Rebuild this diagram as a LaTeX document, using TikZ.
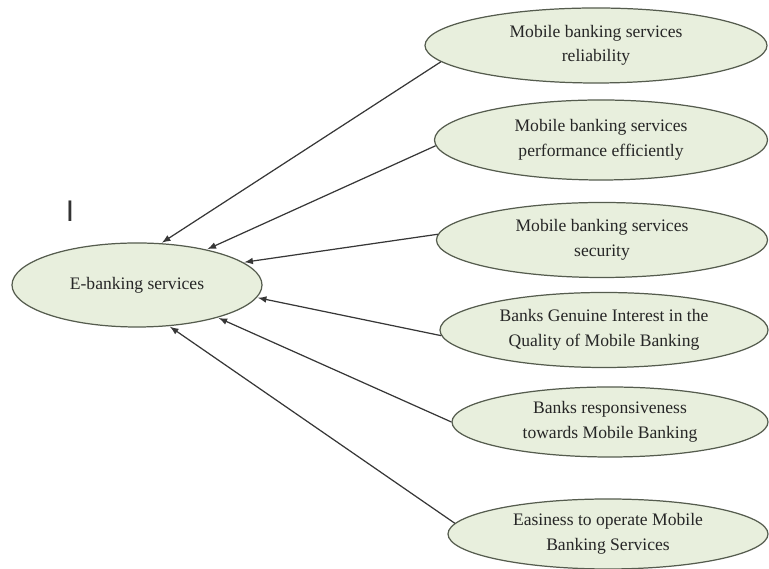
\documentclass[tikz,border=0pt]{standalone}
\usepackage{fontspec}
\setmainfont{Liberation Serif}
\setsansfont{Liberation Sans}
\usetikzlibrary{arrows,%
                shapes.geometric}
\definecolor{ovalfill}{RGB}{232,239,221}
\definecolor{ovalline}{RGB}{85,92,78}
\definecolor{linkgray}{RGB}{55,55,55}

\begin{document}
\begin{tikzpicture}
  \useasboundingbox (0,0) rectangle (15.38,11.38);
  %\draw[gray!30] (0,0) grid (15,11);

  \tikzstyle{Oval}=[ellipse,draw=ovalline,fill=ovalfill,line width=0.7pt,
                    inner sep=0pt,align=center,text=black!85,
                    font=\fontsize{10}{14}\selectfont]
  \tikzstyle{Link}=[-latex,draw=linkgray,line width=0.7pt,shorten >=0.5pt]

  \node[Oval,minimum width=5cm,minimum height=1.68cm] (E) at (2.74,5.68) {E-banking services};

  \node[Oval,minimum width=6.84cm,minimum height=1.5cm] (r1) at (11.92,10.47)
    {Mobile banking services\\reliability};
  \node[Oval,minimum width=6.66cm,minimum height=1.6cm] (r2) at (12.02,8.58)
    {Mobile banking services\\performance efficiently};
  \node[Oval,minimum width=6.62cm,minimum height=1.5cm] (r3) at (12.04,6.58)
    {Mobile banking services\\security};
  \node[Oval,minimum width=6.56cm,minimum height=1.5cm] (r4) at (12.08,4.78)
    {Banks Genuine Interest in the\\Quality of Mobile Banking};
  \node[Oval,minimum width=6.32cm,minimum height=1.4cm] (r5) at (12.2,2.94)
    {Banks responsiveness\\towards Mobile Banking};
  \node[Oval,minimum width=6.4cm,minimum height=1.4cm] (r6) at (12.16,0.7)
    {Easiness to operate Mobile\\Banking Services};

  \node[font=\sffamily\fontsize{17}{17}\selectfont,text=black!80] (mark) at (1.4,7.16) {I};

  \draw[Link] (r1.186) -- (E.60);
  \draw[Link] (r2.182) -- (E.27);
  \draw[Link] (r3.178) -- (E.12);
  \draw[Link] (r4.182) -- (E.-6);
  \draw[Link] (r5.west) -- (E.-22);
  \draw[Link] (r6.176) -- (E.-52);

\end{tikzpicture}
\end{document}
